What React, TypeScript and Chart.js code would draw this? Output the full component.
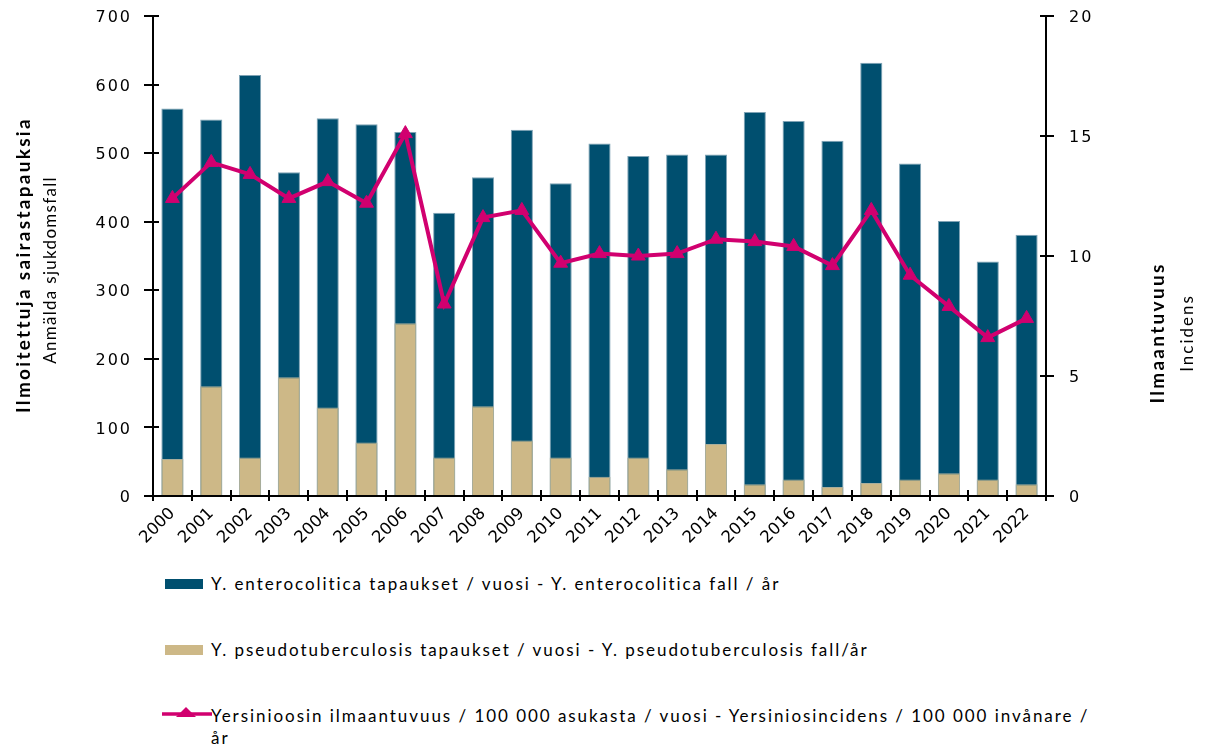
import React, { useEffect, useRef } from 'react';
import { Chart, registerables } from 'chart.js';

Chart.register(...registerables);

const years = ['2000', '2001', '2002', '2003', '2004', '2005', '2006', '2007', '2008', '2009', '2010', '2011', '2012', '2013', '2014', '2015', '2016', '2017', '2018', '2019', '2020', '2021', '2022'];
const enterocolitica = [565, 549, 614, 472, 551, 542, 531, 413, 465, 534, 456, 514, 496, 498, 498, 560, 547, 518, 632, 485, 401, 342, 381];
const pseudotuberculosis = [54, 160, 56, 173, 129, 78, 252, 56, 131, 81, 56, 28, 56, 39, 76, 17, 24, 13, 19, 24, 33, 24, 17];
const incidence = [12.4, 13.9, 13.4, 12.4, 13.1, 12.2, 15.1, 8.0, 11.6, 11.9, 9.7, 10.1, 10.0, 10.1, 10.7, 10.6, 10.4, 9.6, 11.9, 9.2, 7.9, 6.6, 7.4];

const leftAxis = { min: 0, max: 700, step: 100 };
const rightAxis = { min: 0, max: 20, step: 5 };

const seriesLabels = [
  'Y. enterocolitica tapaukset / vuosi - Y. enterocolitica fall / år',
  'Y. pseudotuberculosis tapaukset / vuosi - Y. pseudotuberculosis fall/år',
  'Yersinioosin ilmaantuvuus / 100 000 asukasta / vuosi - Yersiniosincidens / 100 000 invånare / år',
];
const leftTitle = ['Ilmoitettuja sairastapauksia', 'Anmälda sjukdomsfall'];
const rightTitle = ['Ilmaantuvuus', 'Incidens'];

const BLUE = '#004F6F';
const TAN = '#CDB887';
const MAGENTA = '#D1006F';
const TICK_FAMILY = "'DejaVu Sans', Verdana, sans-serif";
const TEXT_FONT = 'Lato';

const crossTicks = {
  id: 'crossTicks',
  afterDraw(chart: any) {
    const { ctx, chartArea, scales } = chart;
    ctx.save();
    ctx.strokeStyle = '#000';
    ctx.lineWidth = 2;
    ctx.beginPath();
    scales.y.ticks.forEach((_t: any, i: number) => {
      const y = Math.round(scales.y.getPixelForTick(i));
      ctx.moveTo(chartArea.left, y);
      ctx.lineTo(chartArea.left + 6, y);
    });
    scales.y1.ticks.forEach((_t: any, i: number) => {
      const y = Math.round(scales.y1.getPixelForTick(i));
      ctx.moveTo(chartArea.right, y);
      ctx.lineTo(chartArea.right - 6, y);
    });
    const n = years.length;
    const w = (chartArea.right - chartArea.left) / n;
    for (let i = 0; i <= n; i++) {
      const x = Math.round(chartArea.left + i * w);
      ctx.moveTo(x, chartArea.bottom);
      ctx.lineTo(x, chartArea.bottom - 6);
    }
    ctx.stroke();

    // value-axis tick labels (letter-spaced)
    ctx.font = `16px ${TICK_FAMILY}`;
    (ctx as any).letterSpacing = '2px';
    ctx.fillStyle = '#000';
    ctx.textBaseline = 'middle';
    ctx.textAlign = 'right';
    scales.y.ticks.forEach((t: any, i: number) => {
      ctx.fillText(String(t.label), chartArea.left - 21, scales.y.getPixelForTick(i) + 2);
    });
    ctx.textAlign = 'left';
    scales.y1.ticks.forEach((t: any, i: number) => {
      ctx.fillText(String(t.label), chartArea.right + 23, scales.y1.getPixelForTick(i) + 2);
    });
    ctx.restore();
  },
};

const axisTitles = {
  id: 'axisTitles',
  afterDraw(chart: any) {
    const { ctx, chartArea } = chart;
    const draw = (text: string, x: number, y: number, font: string, spacing: string) => {
      ctx.save();
      ctx.translate(x, y);
      ctx.rotate(-Math.PI / 2);
      ctx.font = font;
      (ctx as any).letterSpacing = spacing;
      ctx.fillStyle = '#000';
      ctx.textAlign = 'center';
      ctx.textBaseline = 'middle';
      ctx.fillText(text, 0, 0);
      ctx.restore();
    };
    const midL = (chartArea.top + chartArea.bottom) / 2;
    draw(leftTitle[0], 24, midL + 9, `bold 19px ${TEXT_FONT}`, '2.3px');
    draw(leftTitle[1], 51, midL + 14, `17px ${TEXT_FONT}`, '1.3px');
    draw(rightTitle[0], 1158, midL + 77, `bold 19px ${TEXT_FONT}`, '2.3px');
    draw(rightTitle[1], 1188, midL + 77, `17px ${TEXT_FONT}`, '2px');
  },
};

function LegendLine() {
  return (
    <svg width="52" height="16" style={{ position: 'absolute', left: 160, top: 706 }}>
      <line x1="2" y1="8" x2="52" y2="8" stroke={MAGENTA} strokeWidth="3.5" />
      <polygon points="26,1 36,11 16,11" fill={MAGENTA} />
    </svg>
  );
}

export default function App() {
  const ref = useRef<HTMLCanvasElement>(null);

  useEffect(() => {
    document.body.style.margin = '0';
    const canvas = ref.current;
    if (!canvas) return;
    const chart = new Chart(canvas, {
      type: 'bar',
      data: {
        labels: years,
        datasets: [
          {
            type: 'bar',
            label: seriesLabels[0],
            data: enterocolitica,
            backgroundColor: BLUE,
            borderColor: '#7FA3B5',
            borderWidth: 1,
            grouped: false,
            barPercentage: 0.57,
            categoryPercentage: 1,
            yAxisID: 'y',
            order: 2,
          } as any,
          {
            type: 'bar',
            label: seriesLabels[1],
            data: pseudotuberculosis,
            backgroundColor: TAN,
            borderColor: '#A9AE9C',
            borderWidth: 1,
            grouped: false,
            barPercentage: 0.57,
            categoryPercentage: 1,
            yAxisID: 'y',
            order: 1,
          } as any,
          {
            type: 'line',
            label: seriesLabels[2],
            data: incidence,
            borderColor: MAGENTA,
            backgroundColor: MAGENTA,
            borderWidth: 4,
            pointStyle: 'triangle',
            pointRadius: 8,
            pointBorderWidth: 1,
            tension: 0,
            yAxisID: 'y1',
            order: 0,
          } as any,
        ],
      },
      options: {
        animation: false,
        responsive: false,
        maintainAspectRatio: false,
        layout: { padding: { top: 16, left: 0, right: 0, bottom: 0 } },
        plugins: { legend: { display: false }, tooltip: { enabled: false } },
        scales: {
          x: {
            offset: true,
            grid: { offset: true, drawOnChartArea: false, drawTicks: true, tickLength: 5, color: '#000', lineWidth: 2 },
            border: { display: true, color: '#000', width: 2 },
            ticks: { color: '#000', font: { family: TICK_FAMILY, size: 16.5 }, minRotation: 45, maxRotation: 45, autoSkip: false, padding: 3 },
            afterFit: (s: any) => { s.height = 64; },
          },
          y: {
            position: 'left',
            min: leftAxis.min,
            max: leftAxis.max,
            grid: { drawOnChartArea: false, drawTicks: true, tickLength: 9, color: '#000', lineWidth: 2 },
            border: { display: true, color: '#000', width: 2 },
            ticks: { stepSize: leftAxis.step, display: false },
            afterFit: (s: any) => { s.width = 153; },
          },
          y1: {
            position: 'right',
            min: rightAxis.min,
            max: rightAxis.max,
            grid: { drawOnChartArea: false, drawTicks: true, tickLength: 8, color: '#000', lineWidth: 2 },
            border: { display: true, color: '#000', width: 2 },
            ticks: { stepSize: rightAxis.step, display: false },
            afterFit: (s: any) => { s.width = 160; },
          },
        },
      } as any,
      plugins: [crossTicks, axisTitles],
    });
    return () => chart.destroy();
  }, []);

  const textStyle: React.CSSProperties = {
    position: 'absolute',
    left: 211,
    font: `17px ${TEXT_FONT}`,
    letterSpacing: '1.95px',
    lineHeight: '22px',
    color: '#000',
  };

  return (
    <div style={{ position: 'relative', width: 1206, height: 754, overflow: 'hidden', background: '#fff' }}>
      <canvas ref={ref} width={1206} height={560} style={{ position: 'absolute', left: 0, top: 0, width: 1206, height: 560 }} />
      <div style={{ position: 'absolute', left: 165, top: 579, width: 38, height: 10, background: BLUE }} />
      <div style={{ ...textStyle, top: 573, whiteSpace: 'nowrap' }}>{seriesLabels[0]}</div>
      <div style={{ position: 'absolute', left: 165, top: 645, width: 38, height: 10, background: TAN }} />
      <div style={{ ...textStyle, top: 639, whiteSpace: 'nowrap' }}>{seriesLabels[1]}</div>
      <LegendLine />
      <div style={{ ...textStyle, top: 705, width: 895 }}>{seriesLabels[2]}</div>
    </div>
  );
}
